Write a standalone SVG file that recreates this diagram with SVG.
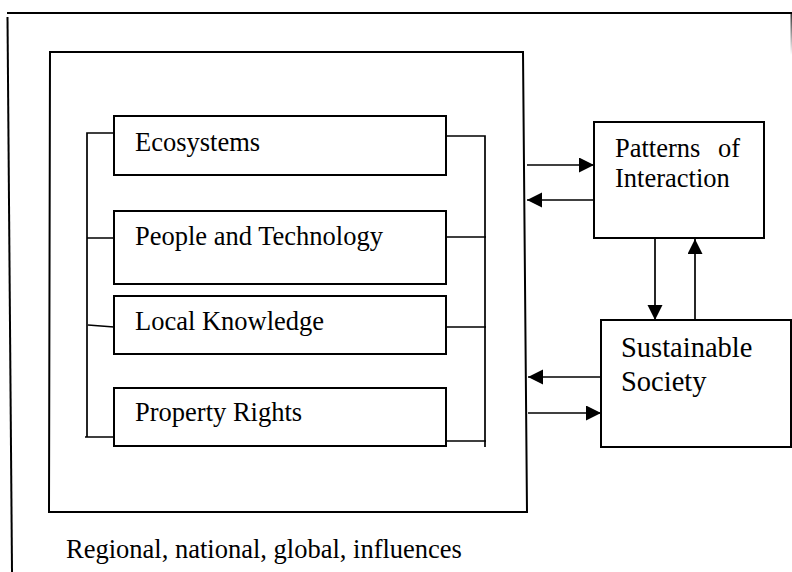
<svg xmlns="http://www.w3.org/2000/svg" width="792" height="572" viewBox="0 0 792 572">
  <style>
    .box { fill: #fff; stroke: #000; stroke-width: 2; }
    .frame { fill: none; stroke: #000; stroke-width: 2; }
    .link { fill: none; stroke: #000; stroke-width: 1.7; }
    .arrow { fill: none; stroke: #000; stroke-width: 1.7; marker-end: url(#head); }
    text { font-family: "Liberation Serif", "Times New Roman", serif; font-size: 26.5px; fill: #000; }
    .big { font-size: 28.5px; }
  </style>
  <defs>
    <marker id="head" markerUnits="userSpaceOnUse" markerWidth="16" markerHeight="16" refX="15" refY="7.5" orient="auto">
      <path d="M0,0 L15,7.5 L0,15 Z" fill="#000"/>
    </marker>
    <linearGradient id="fade" x1="0" y1="0" x2="0" y2="1">
      <stop offset="0" stop-color="#000" stop-opacity="0.8"/>
      <stop offset="1" stop-color="#000" stop-opacity="0"/>
    </linearGradient>
  </defs>

  <rect width="792" height="572" fill="#fff"/>

  <!-- outer influence frame -->
  <g id="outer-frame">
    <path class="frame" d="M7,13 H792"/>
    <path class="frame" d="M7.5,17 L12,572"/>
    <rect x="790.5" y="13" width="1.5" height="42" fill="url(#fade)"/>
    <text x="66" y="558">Regional, national, global, influences</text>
  </g>

  <!-- local system container -->
  <g id="local-system">
    <path class="frame" d="M50,52 H523 L527,512 H49 Z"/>
  </g>

  <g id="ecosystems">
    <rect class="box" x="114" y="116" width="332" height="59"/>
    <text x="135" y="151">Ecosystems</text>
  </g>

  <g id="people-technology">
    <rect class="box" x="114" y="211" width="332" height="73"/>
    <text x="135" y="245">People and Technology</text>
  </g>

  <g id="local-knowledge">
    <rect class="box" x="114" y="296" width="332" height="58"/>
    <text x="135" y="330">Local Knowledge</text>
  </g>

  <g id="property-rights">
    <rect class="box" x="114" y="388" width="332" height="58"/>
    <text x="135" y="421">Property Rights</text>
  </g>

  <g id="patterns-of-interaction">
    <rect class="box" x="594" y="122" width="170" height="116"/>
    <text x="615" y="157">Patterns</text>
    <text x="718" y="157">of</text>
    <text x="615" y="187">Interaction</text>
  </g>

  <g id="sustainable-society">
    <rect class="box" x="601" y="320" width="190" height="127"/>
    <text class="big" x="621" y="357">Sustainable</text>
    <text class="big" x="621" y="391">Society</text>
  </g>

  <g id="connectors">
    <!-- left bracket joining the four components -->
    <path class="link" d="M114,133 H87 V437 M87,238 H114 M88,325 L114,327 M85,437 H113"/>
    <!-- right bracket -->
    <path class="link" d="M446,136 H485 V447 M446,237 H486 M446,327 H486 M446,441 H486"/>
    <!-- exchanges with Patterns of Interaction -->
    <path class="arrow" d="M527,165 H594"/>
    <path class="arrow" d="M594,200 H527"/>
    <!-- Patterns of Interaction <-> Sustainable Society -->
    <path class="arrow" d="M655,238 V320"/>
    <path class="arrow" d="M695,320 V239"/>
    <!-- exchanges with Sustainable Society -->
    <path class="arrow" d="M601,377 H528"/>
    <path class="arrow" d="M528,413 H601"/>
  </g>
</svg>
